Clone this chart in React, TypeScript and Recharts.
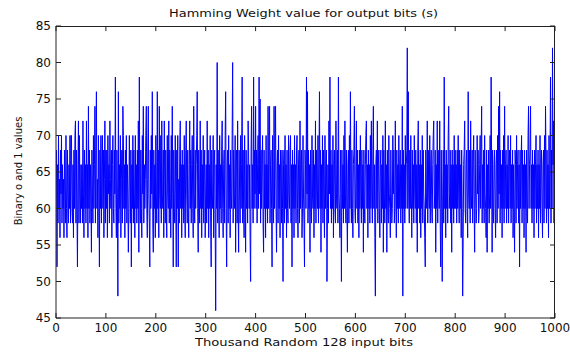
import React from "react";
import { LineChart, Line, XAxis, YAxis, ReferenceLine } from "recharts";

const chartTitle = "Hamming Weight value for output bits (s)";
const xLabel = "Thousand Random 128 input bits";
const yLabel = "Binary o and 1 values";

const xTicks = [0, 100, 200, 300, 400, 500, 600, 700, 800, 900, 1000];
const yTicks = [45, 50, 55, 60, 65, 70, 75, 80, 85];

// samples 1..250
const weightsA = [
  68,52,66,58,70,60,64,56,68,62, 70,58,66,60,64,56,68,62,58,70, 60,56,68,62,58,66,60,70,58,70, 70,60,58,66,56,68,60,70,72,58, 68,60,52,66,72,58,70,62,58,66,
  60,66,58,72,62,56,68,60,66,58, 72,60,66,56,74,60,68,58,66,62, 54,68,62,58,70,60,66,74,58,68, 76,60,64,56,70,62,52,68,60,70, 58,66,70,60,68,56,64,72,58,68,
  60,68,56,70,62,66,58,72,64,60, 68,56,66,70,60,58,68,62,78,60, 56,68,62,48,76,58,66,60,70,56, 64,68,58,74,70,60,66,56,68,60, 70,58,66,62,54,60,70,64,58,68,
  52,66,60,70,58,68,62,56,70,60, 66,58,68,60,72,54,78,62,58,68, 60,56,70,62,74,58,66,60,64,70, 74,60,56,68,74,62,58,52,68,60, 70,62,76,58,54,68,60,66,56,70,
  62,58,76,60,68,56,74,62,60,70, 58,72,62,60,68,56,72,64,58,68, 60,56,70,62,60,72,58,68,62,56, 70,60,74,62,52,68,60,58,70,62, 52,68,60,70,52,64,58,68,72,60,
];
// samples 251..500
const weightsB = [
  66,56,68,60,66,58,70,60,56,68, 72,62,58,68,60,56,66,72,60,68, 58,66,70,60,56,74,62,58,68,60, 66,70,76,60,54,68,62,58,72,60, 68,56,66,60,70,58,64,68,56,62,
  66,58,72,60,68,56,66,60,70,58, 52,68,62,60,70,56,66,68,58,46, 66,60,80,58,68,62,56,70,60,66, 58,68,72,60,56,66,68,58,70,76, 60,52,66,68,58,70,60,66,56,68,
  62,60,70,80,58,68,62,60,70,54, 66,68,58,72,60,54,68,62,58,70, 60,66,78,58,68,60,56,70,62,54, 68,60,66,58,72,68,60,66,56,50, 68,74,60,66,58,78,60,68,62,74,
  60,68,58,66,70,60,78,62,75,58, 68,60,66,70,58,54,68,60,66,56, 70,60,66,58,74,60,68,74,58,66, 68,60,52,70,62,58,74,60,68,74, 60,54,66,68,58,70,60,66,56,68,
  66,58,68,60,50,66,68,58,70,60, 66,56,68,60,58,70,62,60,68,70, 58,66,52,68,60,66,56,70,60,66, 58,68,70,60,56,66,68,58,72,60, 66,68,56,60,70,62,58,52,68,66,
];
// samples 501..750
const weightsC = [
  60,78,62,76,58,68,60,66,54,68, 60,58,70,62,60,68,56,66,60,72, 58,68,62,60,70,58,66,76,60,68, 54,66,60,70,58,68,62,56,70,60, 66,68,50,60,66,58,72,62,78,60,
  68,58,66,60,70,56,66,68,60,58, 72,62,60,68,58,78,62,60,56,68, 62,50,68,60,66,58,70,60,72,62, 58,68,60,54,66,68,58,70,60,76, 62,58,68,60,56,66,68,74,60,58,
  66,72,60,68,58,66,56,68,60,70, 62,58,68,60,66,54,68,60,58,66, 70,72,60,66,56,68,60,66,58,70, 60,72,62,58,68,74,60,66,56,48, 66,68,60,72,58,66,68,60,56,66,
  68,58,66,60,70,54,68,62,58,72, 60,66,54,68,60,58,70,62,60,56, 68,62,58,60,70,62,68,58,60,72, 62,56,68,60,66,58,70,60,66,68, 58,66,60,74,48,68,60,66,58,70,
  60,66,68,82,60,76,62,58,68,60, 70,62,56,68,60,66,58,70,62,60, 68,58,66,54,68,72,60,66,58,68, 56,66,60,70,58,68,62,60,56,52, 68,62,60,72,58,68,62,60,70,58,
];
// samples 751..1000
const weightsD = [
  66,68,60,58,66,70,72,60,62,68, 54,66,60,72,58,68,62,60,72,58, 52,68,60,50,62,68,58,78,60,66, 56,68,60,66,58,70,74,60,62,68, 58,66,54,68,60,66,58,70,60,68,
  60,66,58,68,60,70,62,58,68,60, 66,56,68,60,48,56,66,68,72,60, 58,66,68,60,56,76,62,60,68,58, 72,62,60,68,58,66,70,60,54,68, 62,58,60,70,62,68,58,60,66,70,
  60,68,74,58,66,60,68,58,70,62, 60,56,68,54,66,60,68,58,62,70, 60,78,66,54,68,60,58,66,68,60, 56,66,68,58,70,60,74,62,76,58, 68,60,66,56,68,60,70,58,74,60,
  66,68,58,66,60,70,58,66,68,60, 70,58,66,60,68,56,66,60,54,68, 66,58,70,60,66,68,58,66,52,68, 60,66,70,58,68,60,66,56,68,60, 66,54,68,60,58,70,74,60,66,68,
  74,60,66,58,68,60,66,56,68,60, 66,70,58,66,60,68,56,66,60,70, 58,66,68,60,56,66,68,58,70,60, 74,66,58,68,60,66,56,70,60,66, 78,58,68,60,82,66,72,58,68,70,
];

const weights = [...weightsA, ...weightsB, ...weightsC, ...weightsD];
const chartData = weights.map((w, i) => ({ sample: i + 1, weight: w }));

const xMin = xTicks[0];
const xMax = xTicks[xTicks.length - 1];
const yMin = yTicks[0];
const yMax = yTicks[yTicks.length - 1];

const axisColor = "#222";
const tickStyle = { fill: "#111", fontSize: 12, fontFamily: "DejaVu Sans" };
const plotMargin = { top: 26, right: 15, bottom: 16, left: 0 };
const yAxisWidth = 56;
const xAxisHeight = 20;

export default function App() {
  return (
    <div style={{ position: "absolute", left: 0, top: 0, width: 570, height: 354, background: "#fff" }}>
      <LineChart width={570} height={354} data={chartData} margin={plotMargin}>
        <XAxis
          dataKey="sample"
          type="number"
          domain={[xMin, xMax]}
          ticks={xTicks}
          allowDataOverflow
          height={xAxisHeight}
          stroke={axisColor}
          tickSize={-5}
          tickMargin={10}
          tick={tickStyle}
          interval={0}
        />
        <YAxis
          type="number"
          domain={[yMin, yMax]}
          ticks={yTicks}
          allowDataOverflow
          width={yAxisWidth}
          stroke={axisColor}
          tickSize={-5}
          tickMargin={10}
          tick={tickStyle}
          interval={0}
        />
        <Line
          type="linear"
          dataKey="weight"
          stroke="#0000ff"
          strokeWidth={1}
          dot={false}
          activeDot={false}
          isAnimationActive={false}
        />
        {xTicks.map((t) => (
          <ReferenceLine
            key={`tt${t}`}
            segment={[{ x: t, y: yMax }, { x: t, y: yMax - 0.7 }]}
            stroke={axisColor}
            ifOverflow="visible"
          />
        ))}
        {yTicks.map((t) => (
          <ReferenceLine
            key={`rt${t}`}
            segment={[{ x: xMax, y: t }, { x: xMax - 10, y: t }]}
            stroke={axisColor}
            ifOverflow="visible"
          />
        ))}
      </LineChart>
      {/* box frame: top and right edges of the plot area */}
      <div
        style={{
          position: "absolute",
          left: plotMargin.left + yAxisWidth,
          top: plotMargin.top,
          width: 570 - plotMargin.left - plotMargin.right - yAxisWidth,
          height: 354 - plotMargin.top - plotMargin.bottom - xAxisHeight,
          boxSizing: "border-box",
          borderTop: `1px solid ${axisColor}`,
          borderRight: `1px solid ${axisColor}`,
          pointerEvents: "none",
        }}
      />
      <svg
        width={570}
        height={354}
        style={{ position: "absolute", left: 0, top: 0, pointerEvents: "none" }}
      >
        <text x={303.5} y={16.7} textAnchor="middle" fontFamily="DejaVu Sans" fontSize={11} fill="#111" textLength={269} lengthAdjust="spacingAndGlyphs">
          {chartTitle}
        </text>
        <text x={304} y={346} textAnchor="middle" fontFamily="DejaVu Sans" fontSize={11} fill="#111" textLength={218} lengthAdjust="spacingAndGlyphs">
          {xLabel}
        </text>
        <text x={21.5} y={171} transform="rotate(-90 21.5 171)" textAnchor="middle" fontFamily="DejaVu Sans" fontSize={10} fill="#111">
          {yLabel}
        </text>
      </svg>
    </div>
  );
}
